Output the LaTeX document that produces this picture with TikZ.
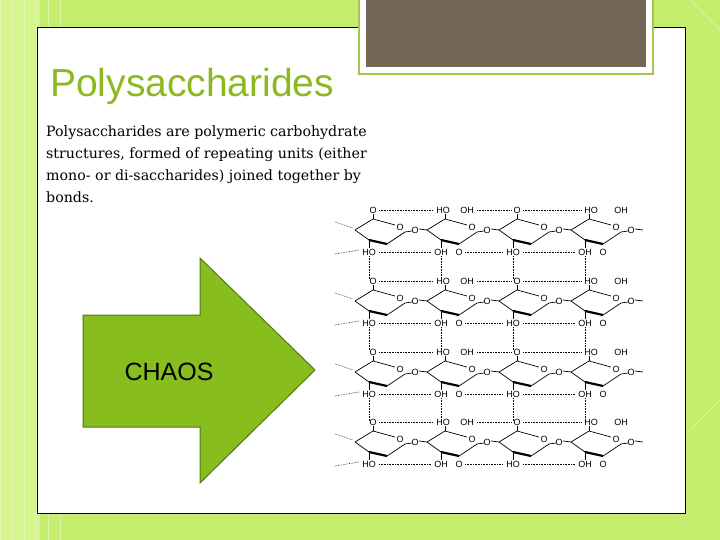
\documentclass[tikz,border=0pt]{standalone}
\usepackage{fontspec}
\setmainfont{DejaVu Serif}
\newfontfamily\sansf{Liberation Sans}
\definecolor{bgG}{RGB}{198,238,110}
\definecolor{bgL}{RGB}{214,245,140}
\definecolor{brownB}{RGB}{115,104,88}
\definecolor{titleG}{RGB}{140,185,30}
\definecolor{arrG}{RGB}{135,190,30}
\definecolor{arrD}{RGB}{80,120,20}
\tikzset{
 lab/.style={font=\sansf\fontsize{9}{9}\selectfont,inner sep=0.5pt,fill=white},
 hb/.style={densely dotted,line width=0.6pt},
 ring/.style={line width=0.7pt},
}
\newcommand{\chair}[2]{% x,y
 \draw[ring] (#1,#2-2) -- ++(18,-11) -- ++(22,6);
 \draw[ring] (#1+50,#2) -- ++(-18,12);
 \draw[line width=2.2pt] (#1+32,#2+12) -- ++(-18,-4);
 \draw[ring] (#1+14,#2+8) -- (#1,#2-2);
 \node[lab] at (#1+45,#2-5) {O};
 \draw[ring] (#1+18,#2-13) -- ++(0,-8);
 \draw[ring] (#1+14,#2+8) -- ++(0,9);
}
\newcommand{\polyrow}[2]{%
 \foreach \k in {0,1,2,3} {\chair{#1+\k*72}{#2}
  \node[lab] at (#1+\k*72+60,#2-2) {O};
  \draw[ring] (#1+\k*72+50,#2) -- (#1+\k*72+57,#2-1);
  \draw[ring] (#1+\k*72+64,#2-3) -- (#1+\k*72+72,#2-2);}
 \draw[hb] (#1-20,#2-10) -- (#1-2,#2-4);
 \draw[hb] (#1-20,#2+22) -- (#1+4,#2+18);
 \node[lab] at (#1+18,#2-22) {O};
 \node[lab] at (#1+14,#2+20) {HO};
 \node[lab] at (#1+88,#2-22) {HO};
 \node[lab] at (#1+86,#2+20) {OH};
 \node[lab] at (#1+112,#2-22) {OH};
 \node[lab] at (#1+104,#2+20) {O};
 \node[lab] at (#1+162,#2-22) {O};
 \node[lab] at (#1+158,#2+20) {HO};
 \node[lab] at (#1+236,#2-22) {HO};
 \node[lab] at (#1+230,#2+20) {OH};
 \node[lab] at (#1+266,#2-22) {OH};
 \node[lab] at (#1+248,#2+20) {O};
 \draw[hb] (#1+24,#2-22) -- (#1+78,#2-22);
 \draw[hb] (#1+122,#2-22) -- (#1+156,#2-22);
 \draw[hb] (#1+168,#2-22) -- (#1+226,#2-22);
 \draw[hb] (#1+110,#2+20) -- (#1+148,#2+20);
 \draw[hb] (#1+24,#2+20) -- (#1+76,#2+20);
 \draw[hb] (#1+168,#2+20) -- (#1+220,#2+20);
}
\begin{document}
\begin{tikzpicture}[x=1pt,y=-1pt]
\useasboundingbox (0,0) rectangle (720,540);
\fill[bgG] (0,0) rectangle (720,540);
\fill[bgL] (0,0) rectangle (40,540);
\foreach \i in {0,12,...,60} \draw[white,opacity=0.35] (\i,0) -- (\i,540);
\draw[white,opacity=0.5] (690,0) -- (720,30) (690,430) -- (720,400);
\fill[white] (37,27) rectangle (685,513);
\draw[black,line width=0.8pt] (37,27) rectangle (685,513);
\fill[white] (358,0) rectangle (654,75);
\draw[titleG!80!white,line width=1.5pt] (359,-2) rectangle (653,74);
\fill[brownB] (366,0) rectangle (646,67);
\node[anchor=base west,inner sep=0,text=titleG,font=\sansf\fontsize{39}{39}\selectfont] (title) at (50,97) {Polysaccharides};
\node[anchor=north west,inner sep=0,align=left,font=\fontsize{14.2}{22}\selectfont] (body) at (46,126)
 {Polysaccharides are polymeric carbohydrate\\structures, formed of repeating units (either\\mono- or di-saccharides) joined together by\\bonds.};
\draw[arrD,fill=arrG,line width=1pt] (83,315) -- (200,315) -- (200,258) -- (315,370) -- (200,483) -- (200,427) -- (83,427) -- cycle;
\node[font=\sansf\fontsize{25}{25}\selectfont] (chaos) at (169,372) {CHAOS};
\polyrow{355}{232}
\polyrow{355}{303}
\polyrow{355}{374}
\polyrow{355}{444}
\foreach \y in {256,327,398} {
 \draw[hb] (369,\y) -- (369,\y+24);
 \draw[hb] (441,\y) -- (441,\y+24);
 \draw[hb] (513,\y) -- (513,\y+24);
 \draw[hb] (585,\y) -- (585,\y+24);}
\end{tikzpicture}
\end{document}
